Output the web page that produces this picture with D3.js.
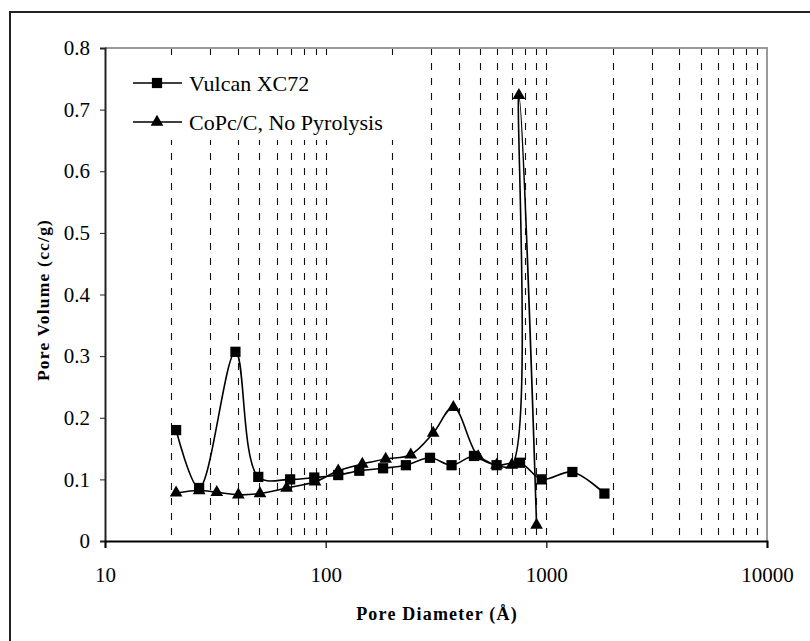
<!DOCTYPE html>
<html>
<head>
<meta charset="utf-8">
<script src="https://cdn.jsdelivr.net/npm/d3@7"></script>
<style>
  html, body { margin: 0; padding: 0; background: #fff; }
  svg { display: block; }
  svg text { font-family: "Liberation Serif", "Times New Roman", Times, serif !important; fill: #000; }
</style>
</head>
<body>
<svg id="chart" width="810" height="641"></svg>
<script>
// Pore size distributions (diameter in Å, volume in cc/g)
const vulcanDiameter = [21, 26.7, 39, 49.5, 69, 88.8, 114, 142, 182, 231, 297, 372, 470, 595, 760, 953, 1312, 1833];
const vulcanVolume   = [0.180, 0.086, 0.307, 0.104, 0.100, 0.103, 0.107, 0.114, 0.118, 0.123, 0.135, 0.123, 0.138, 0.123, 0.127, 0.100, 0.112, 0.077];

const copcDiameter = [21, 26.7, 32.1, 40.2, 50.4, 66.5, 89.5, 114, 146.6, 187, 243, 307, 379, 491, 595, 697, 751, 903];
const copcVolume   = [0.078, 0.082, 0.079, 0.075, 0.077, 0.086, 0.096, 0.114, 0.125, 0.133, 0.140, 0.175, 0.217, 0.137, 0.123, 0.123, 0.723, 0.026];

const xTickValues = [10, 100, 1000, 10000];
const yTickValues = [0, 0.1, 0.2, 0.3, 0.4, 0.5, 0.6, 0.7, 0.8];
const seriesNames = ["Vulcan XC72", "CoPc/C, No Pyrolysis"];

const svg = d3.select("#chart");
const plot = { left: 105, top: 48, right: 767, bottom: 541 };

const x = d3.scaleLog().domain([10, 10000]).range([plot.left, plot.right]);
const y = d3.scaleLinear().domain([0, 0.8]).range([plot.bottom, plot.top]);

// outer frame
svg.append("rect")
  .attr("x", 10).attr("y", 12).attr("width", 810).attr("height", 640)
  .attr("fill", "none").attr("stroke", "#222").attr("stroke-width", 2);

// dashed minor gridlines at every decade step
const gridValues = [];
[10, 100, 1000].forEach(dec => { for (let k = 2; k <= 10; k++) gridValues.push(dec * k); });
svg.append("g").selectAll("line").data(gridValues.filter(v => v < 10000)).join("line")
  .attr("x1", d => Math.round(x(d)) + 0.5).attr("x2", d => Math.round(x(d)) + 0.5)
  .attr("y1", plot.top).attr("y2", plot.bottom)
  .attr("stroke", "#111").attr("stroke-width", 1.1)
  .attr("stroke-dasharray", "7,8");

// legend background (covers gridlines behind it)
svg.append("rect")
  .attr("x", 110).attr("y", 55).attr("width", 305).attr("height", 85)
  .attr("fill", "#fff");

// top & right frame of plot area
svg.append("path")
  .attr("d", `M${plot.left},${plot.top}H${plot.right}V${plot.bottom}`)
  .attr("fill", "none").attr("stroke", "#999").attr("stroke-width", 2);

// axes
const yAxis = svg.append("g")
  .attr("transform", `translate(${plot.left},0)`)
  .call(d3.axisLeft(y).tickValues(yTickValues).tickSize(5).tickPadding(10)
    .tickFormat(d => d === 0 ? "0" : d3.format(".1f")(d)));
yAxis.select(".domain").attr("stroke", "#222").attr("stroke-width", 2);
yAxis.selectAll(".tick line").attr("stroke", "#222").attr("stroke-width", 1);
yAxis.selectAll("text").attr("font-size", 21);

const xAxis = svg.append("g")
  .attr("transform", `translate(0,${plot.bottom})`)
  .call(d3.axisBottom(x).tickValues(xTickValues).tickSize(7).tickPadding(19)
    .tickFormat(d3.format("d")));
xAxis.select(".domain").attr("stroke", "#000").attr("stroke-width", 2);
xAxis.selectAll(".tick line").attr("stroke", "#000").attr("stroke-width", 1.2);
xAxis.selectAll("text").attr("font-size", 21);

// axis titles
svg.append("text")
  .attr("x", 437).attr("y", 620)
  .attr("text-anchor", "middle")
  .attr("font-size", 18).attr("font-weight", "bold").attr("letter-spacing", 1.2)
  .text("Pore Diameter (Å)");
svg.append("text")
  .attr("transform", "translate(49,300) rotate(-90)")
  .attr("text-anchor", "middle")
  .attr("font-size", 17.5).attr("font-weight", "bold").attr("letter-spacing", 1.2)
  .text("Pore Volume (cc/g)");

// series
const line = d3.line()
  .x(d => x(d[0])).y(d => y(d[1]))
  .curve(d3.curveCatmullRom.alpha(0.5));

const vulcan = d3.zip(vulcanDiameter, vulcanVolume);
const copc = d3.zip(copcDiameter, copcVolume);

const square = d3.symbol().type(d3.symbolSquare).size(105);
const triangle = d3.symbol().type(d3.symbolTriangle).size(70);

[[vulcan, square], [copc, triangle]].forEach(([data, sym]) => {
  svg.append("path").datum(data)
    .attr("d", line)
    .attr("fill", "none").attr("stroke", "#000").attr("stroke-width", 1.6);
  svg.append("g").selectAll("path").data(data).join("path")
    .attr("transform", d => `translate(${x(d[0])},${y(d[1])})`)
    .attr("d", sym)
    .attr("fill", "#000");
});

// legend
const legend = svg.append("g");
[[square, 83], [triangle, 122]].forEach(([sym, ly], i) => {
  legend.append("line")
    .attr("x1", 133).attr("x2", 182).attr("y1", ly).attr("y2", ly)
    .attr("stroke", "#000").attr("stroke-width", 1.6);
  legend.append("path")
    .attr("transform", `translate(157,${ly})`)
    .attr("d", sym).attr("fill", "#000");
  legend.append("text")
    .attr("x", 189).attr("y", ly).attr("dy", "0.35em")
    .attr("font-size", 22)
    .text(seriesNames[i]);
});
</script>
</body>
</html>
